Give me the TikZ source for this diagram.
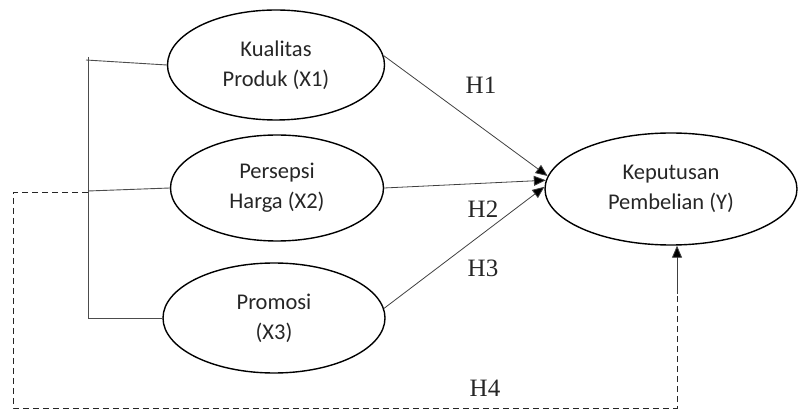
\documentclass[tikz,border=0pt]{standalone}
\usepackage{fontspec}
\setmainfont{Liberation Serif}
\newfontfamily\ellfont{Carlito}
\usetikzlibrary{shapes.geometric,arrows.meta}

\tikzset{
  variabel/.style={shape=ellipse, draw=black, line width=1.4pt, inner sep=0pt,
    align=center, font=\ellfont\fontsize{22.5}{30}\selectfont, text=black!85},
  panah/.style={draw=black!75, line width=0.8pt, -{Triangle[length=12pt,width=10pt,fill=black]}},
  garis/.style={draw=black!70, line width=0.9pt},
  hipotesis/.style={font=\fontsize{25}{28}\selectfont, text=black!85}
}

\begin{document}
\begin{tikzpicture}[x=1pt, y=-1pt]
        \useasboundingbox (0, 0) rectangle (802, 411);

        \node[variabel, minimum width=217pt, minimum height=110pt] (X1) at (276, 65) {Kualitas\\Produk (X1)};
        \node[variabel, minimum width=213pt, minimum height=106pt] (X2) at (277, 188) {Persepsi\\Harga (X2)};
        \node[variabel, minimum width=222pt, minimum height=110pt] (X3) at (274, 318) {Promosi\\(X3)};
        \node[variabel, minimum width=252pt, minimum height=112pt] (Y) at (671, 189) {Keputusan\\Pembelian (Y)};

        % kerangka kiri
        \coordinate (B1) at (88, 57);
        \coordinate (B2) at (88, 191);
        \coordinate (B3) at (88, 318);
        \draw[garis] (B1) -- (B3);
        \draw[garis] (86, 60) -- (X1.west);
        \draw[garis] (B2) -- (X2.west);
        \draw[garis] (B3) -- (X3.west);

        % pengaruh parsial
        \draw[panah] (X1.5) -- (Y.174);
        \draw[panah] (X2.east) -- (Y.176);
        \draw[panah] (X3.5) -- (Y.179);

        % pengaruh simultan
        \coordinate (D1) at (88, 193);
        \coordinate (D2) at (13, 193);
        \coordinate (D3) at (13, 408);
        \coordinate (D4) at (677, 408);
        \coordinate (D5) at (677, 294);
        \draw[black!85, line width=1pt, dash pattern=on 6pt off 4pt] (D1) -- (D2) -- (D3) -- (D4) -- (D5);
        \draw[panah] (D5) -- (Y.south -| D5);

        \node[hipotesis] (H1) at (481, 85) {H1};
        \node[hipotesis] (H2) at (483, 209) {H2};
        \node[hipotesis] (H3) at (483, 268) {H3};
        \node[hipotesis] (H4) at (485, 388) {H4};
    \end{tikzpicture}
\end{document}
